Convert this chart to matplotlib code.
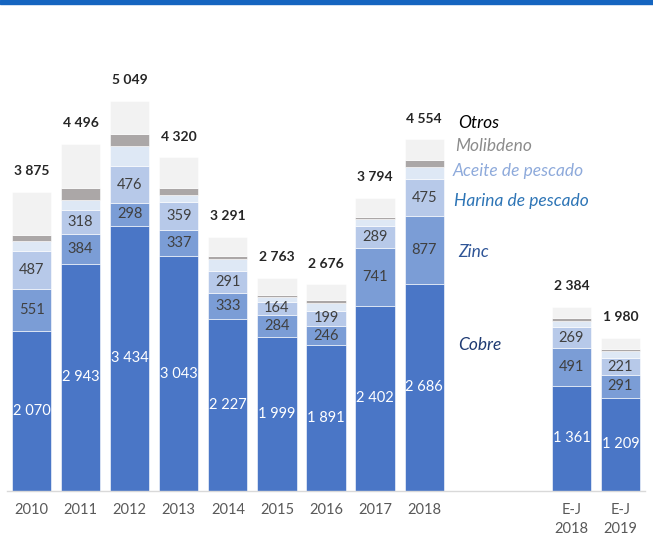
import matplotlib
matplotlib.use("Agg")
import matplotlib.pyplot as plt
import numpy as np

categories = ["2010", "2011", "2012", "2013", "2014", "2015", "2016", "2017", "2018", "E-J\n2018", "E-J\n2019"]
positions = [0, 1, 2, 3, 4, 5, 6, 7, 8, 11, 12]
cobre = [2070, 2943, 3434, 3043, 2227, 1999, 1891, 2402, 2686, 1361, 1209]
zinc = [551, 384, 298, 337, 333, 284, 246, 741, 877, 491, 291]
harina = [487, 318, 476, 359, 291, 164, 199, 289, 475, 269, 221]
aceite = [129, 118, 259, 91, 153, 68, 94, 92, 153, 80, 87]
molibdeno = [78, 168, 151, 100, 35, 20, 50, 30, 100, 45, 35]
otros = [560, 565, 431, 390, 252, 228, 196, 240, 263, 138, 137]
totals = [3875, 4496, 5049, 4320, 3291, 2763, 2676, 3794, 4554, 2384, 1980]

series_names = ["Cobre", "Zinc", "Harina de pescado", "Aceite de pescado", "Molibdeno", "Otros"]
series = [cobre, zinc, harina, aceite, molibdeno, otros]
colors = ["#4A76C6", "#7B9DD6", "#B7C9E9", "#DEE8F5", "#ABA7A7", "#F2F2F2"]
name_colors = ["#1F3B73", "#2F5597", "#2E75B6", "#8EAADB", "#8C8C8C", "#000000"]
name_y = [1891, 3096, 3756, 4145, 4469, 4767]

FONT = "Lato"
plt.rcParams['font.family'] = [FONT, 'DejaVu Sans']

fig = plt.figure(figsize=(6.53, 5.38), dpi=100)
ax = fig.add_axes([7/653, 1 - 491/538, 638/653, 491/538])

def fmt(v):
    return f"{v:,}".replace(",", " ")

x = np.array(positions, dtype=float)
bottom = np.zeros(len(x))
for i, (vals, c) in enumerate(zip(series, colors)):
    vals = np.array(vals, dtype=float)
    ax.bar(x, vals, 0.8, bottom=bottom, color=c, edgecolor="white", linewidth=0.4)
    if i < 3:
        for xi, b, v in zip(x, bottom, vals):
            ax.text(xi, b + v / 2, fmt(int(v)), ha="center", va="center",
                    fontsize=10.5, color="white" if i == 0 else "#404040")
    bottom += vals

for xi, t in zip(x, totals):
    ax.text(xi, t + 270, fmt(t), ha="center", va="center", fontsize=10,
            fontweight="bold", color="#262626")

# series names next to 2018 bar
name_x = [8.7, 8.7, 8.6, 8.57, 8.64, 8.7]
for nm, ny, nc, nx in zip(series_names, name_y, name_colors, name_x):
    ax.text(nx, ny, nm, ha="left", va="center", fontsize=12.5, style="italic", color=nc)

ax.set_xlim(-0.5, 12.5)
ax.set_ylim(0, 491 / 0.0772)
ax.set_xticks(positions)
ax.set_xticklabels(categories, fontsize=10.5, color="#595959", linespacing=1.4)
ax.tick_params(axis="x", length=0, pad=9)
ax.set_yticks([])
for s in ["top", "right", "left"]:
    ax.spines[s].set_visible(False)
ax.spines["bottom"].set_color("#D9D9D9")
ax.spines["bottom"].set_linewidth(1)

# blue band at top
fig.patches.append(plt.Rectangle((0, 1 - 4/538), 1, 4/538, transform=fig.transFigure,
                                 color="#1565C0", zorder=10))

fig.savefig("out.png", dpi=100)
